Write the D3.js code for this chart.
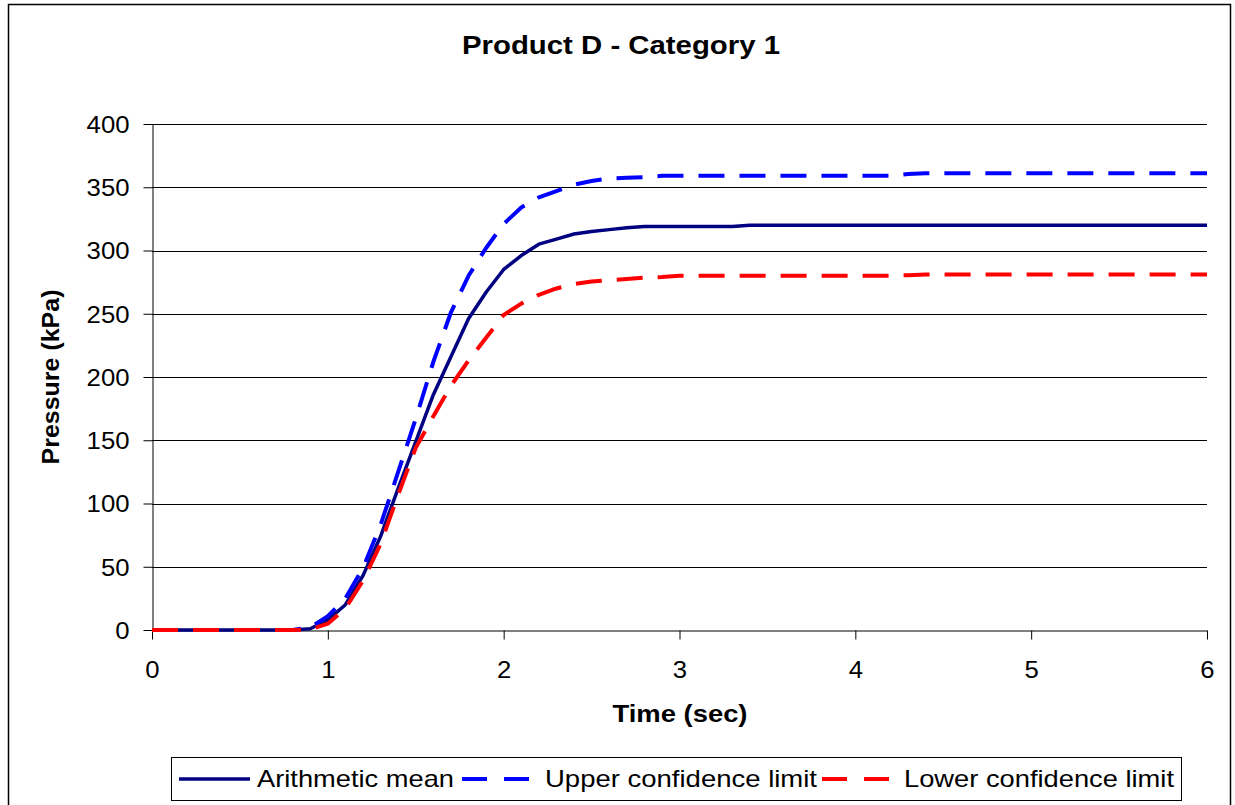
<!DOCTYPE html>
<html>
<head>
<meta charset="utf-8">
<script src="https://cdn.jsdelivr.net/npm/d3@7"></script>
<style>
  html, body { margin: 0; padding: 0; background: #fff; }
  svg { display: block; }
  text { font-family: "Liberation Sans", Arial, sans-serif; fill: #000; }
</style>
</head>
<body>
<svg id="chart" width="1235" height="805"></svg>
<script>
// Sample times (s)
const times = [
  0.0, 0.1, 0.2, 0.3, 0.4, 0.5, 0.6, 0.7, 0.8, 0.9,
  1.0, 1.1, 1.2, 1.3, 1.4, 1.5, 1.6, 1.7, 1.8, 1.9,
  2.0, 2.1, 2.2, 2.3, 2.4, 2.5, 2.6, 2.7, 2.8, 2.9,
  3.0, 3.1, 3.2, 3.3, 3.4, 3.5, 3.6, 3.7, 3.8, 3.9,
  4.0, 4.1, 4.2, 4.3, 4.4, 4.5, 4.6, 4.7, 4.8, 4.9,
  5.0, 5.1, 5.2, 5.3, 5.4, 5.5, 5.6, 5.7, 5.8, 5.9,
  6.0
];

// Pressure (kPa)
const meanPressure = [
  0, 0, 0, 0, 0, 0, 0, 0, 0, 1,
  8, 20, 43, 74, 112, 149, 186, 216, 246, 267,
  285, 296, 305, 309, 313, 315, 316.5, 318, 319, 319,
  319, 319, 319, 319, 320, 320, 320, 320, 320, 320,
  320, 320, 320, 320, 320, 320, 320, 320, 320, 320,
  320, 320, 320, 320, 320, 320, 320, 320, 320, 320,
  320
];
const upperLimit = [
  0, 0, 0, 0, 0, 0, 0, 0, 0, 2,
  11, 25, 49, 83, 125, 167, 212, 251, 280, 302,
  321, 334, 342, 347, 352, 355, 357, 357.5, 358, 359,
  359, 359, 359, 359, 359, 359, 359, 359, 359, 359,
  359, 359, 359, 360.5, 361, 361, 361, 361, 361, 361,
  361, 361, 361, 361, 361, 361, 361, 361, 361, 361,
  361
];
const lowerLimit = [
  0, 0, 0, 0, 0, 0, 0, 0, 0, 0.5,
  5, 17, 39, 68, 107, 144, 169, 193, 213, 231,
  249, 258, 265, 270, 273.5, 275.5, 276.5, 277.5, 278.5, 279,
  280, 280, 280, 280, 280, 280, 280, 280, 280, 280,
  280, 280, 280, 280.5, 281, 281, 281, 281, 281, 281,
  281, 281, 281, 281, 281, 281, 281, 281, 281, 281,
  281
];

const xTicks = [0, 1, 2, 3, 4, 5, 6];
const yTicks = [0, 50, 100, 150, 200, 250, 300, 350, 400];

const seriesNames = ["Arithmetic mean", "Upper confidence limit", "Lower confidence limit"];
const seriesValues = [meanPressure, upperLimit, lowerLimit];
const seriesColors = ["#000080", "#0000FF", "#FF0000"];
const seriesDash = [null, "26,15", "26,15"];
const seriesWidth = [3.5, 4, 4];

const svg = d3.select("#chart");
const fmt = d3.format("d");

// Outer chart frame
svg.append("rect")
  .attr("x", 8.5).attr("y", 4.5)
  .attr("width", 1222).attr("height", 820)
  .attr("fill", "#fff").attr("stroke", "#000").attr("stroke-width", 1.5);

const plot = { left: 152, right: 1207, top: 124, bottom: 630 };

const x = d3.scaleLinear().domain([0, 6]).range([plot.left, plot.right]);
const y = d3.scaleLinear().domain([0, 400]).range([plot.bottom, plot.top]);

// Horizontal gridlines
svg.append("g")
  .selectAll("line")
  .data(yTicks.filter(d => d > 0))
  .join("line")
  .attr("x1", plot.left).attr("x2", plot.right)
  .attr("y1", d => Math.round(y(d)) + 0.5).attr("y2", d => Math.round(y(d)) + 0.5)
  .attr("stroke", "#000").attr("stroke-width", 1);

// Y axis
const yAxis = svg.append("g")
  .attr("transform", `translate(${plot.left + 0.5},0)`)
  .call(d3.axisLeft(y).tickValues(yTicks).tickFormat(fmt)
    .tickSize(9).tickSizeOuter(0).tickPadding(14));
yAxis.select(".domain").attr("stroke", "#000");
yAxis.selectAll(".tick line").attr("stroke", "#000");
yAxis.selectAll(".tick text")
  .style("font-family", '"Liberation Sans", Arial, sans-serif')
  .style("font-size", "23px")
  .attr("dy", "0.36em")
  .attr("textLength", d => fmt(d).length * 14.3)
  .attr("lengthAdjust", "spacingAndGlyphs");

// X axis
const xAxis = svg.append("g")
  .attr("transform", `translate(0,${plot.bottom + 0.5})`)
  .call(d3.axisBottom(x).tickValues(xTicks).tickFormat(fmt)
    .tickSize(9).tickSizeOuter(0).tickPadding(14));
xAxis.select(".domain").attr("stroke", "#000");
xAxis.selectAll(".tick line").attr("stroke", "#000");
xAxis.selectAll(".tick text")
  .style("font-family", '"Liberation Sans", Arial, sans-serif')
  .style("font-size", "23px")
  .attr("y", 47).attr("dy", null)
  .attr("textLength", d => fmt(d).length * 14.3)
  .attr("lengthAdjust", "spacingAndGlyphs");

// Series lines
const line = d3.line()
  .x((d, i) => x(times[i]))
  .y(d => y(d));

seriesValues.forEach((vals, k) => {
  svg.append("path")
    .datum(vals)
    .attr("d", line)
    .attr("fill", "none")
    .attr("stroke", seriesColors[k])
    .attr("stroke-width", seriesWidth[k])
    .attr("stroke-dasharray", seriesDash[k])
    .attr("stroke-linejoin", "round");
});

// Title
svg.append("text")
  .attr("x", 621).attr("y", 54)
  .attr("text-anchor", "middle")
  .style("font-size", "26px").style("font-weight", "bold")
  .attr("textLength", 318).attr("lengthAdjust", "spacingAndGlyphs")
  .text("Product D - Category 1");

// Axis titles
svg.append("text")
  .attr("x", 680).attr("y", 722)
  .attr("text-anchor", "middle")
  .style("font-size", "24px").style("font-weight", "bold")
  .attr("textLength", 135).attr("lengthAdjust", "spacingAndGlyphs")
  .text("Time (sec)");

svg.append("text")
  .attr("transform", "translate(59,377) rotate(-90)")
  .attr("text-anchor", "middle")
  .style("font-size", "24px").style("font-weight", "bold")
  .attr("textLength", 175).attr("lengthAdjust", "spacingAndGlyphs")
  .text("Pressure (kPa)");

// Legend
const legend = svg.append("g");
legend.append("rect")
  .attr("x", 171.5).attr("y", 757.5)
  .attr("width", 1010).attr("height", 43)
  .attr("fill", "#fff").attr("stroke", "#000").attr("stroke-width", 1);

const legendItems = [
  { sx: 179, ex: 250, tx: 257, tw: 197 },
  { sx: 462, ex: 537, tx: 545, tw: 272 },
  { sx: 822, ex: 896, tx: 904, tw: 270 }
];
legendItems.forEach((it, k) => {
  legend.append("line")
    .attr("x1", it.sx).attr("x2", it.ex)
    .attr("y1", 779).attr("y2", 779)
    .attr("stroke", seriesColors[k])
    .attr("stroke-width", seriesWidth[k])
    .attr("stroke-dasharray", k === 0 ? null : "25,17");
  legend.append("text")
    .attr("x", it.tx).attr("y", 787)
    .style("font-size", "24px")
    .attr("textLength", it.tw).attr("lengthAdjust", "spacingAndGlyphs")
    .text(seriesNames[k]);
});
</script>
</body>
</html>
